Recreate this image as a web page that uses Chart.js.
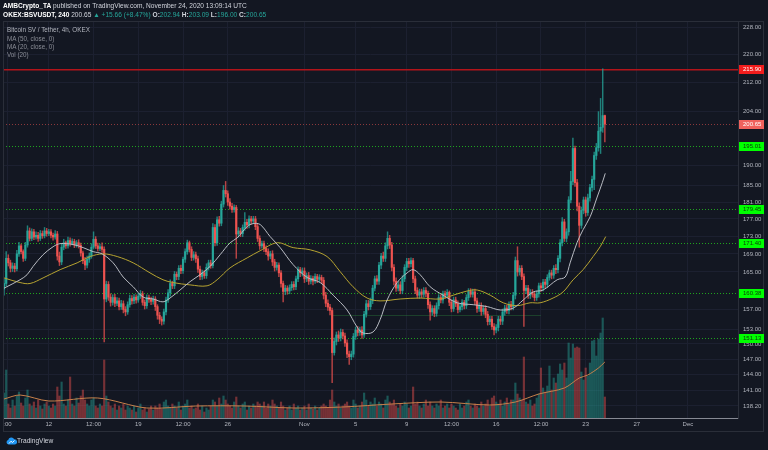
<!DOCTYPE html>
<html><head><meta charset="utf-8">
<script src="https://cdn.jsdelivr.net/npm/chart.js@4.4.1/dist/chart.umd.min.js"></script>
<style>
html,body{margin:0;padding:0;background:#131722;}
#wrap{position:relative;width:768px;height:450px;overflow:hidden;background:#131722;font-family:"Liberation Sans",Arial,sans-serif;}
canvas{position:absolute;left:0;top:0;}
.t{position:absolute;white-space:nowrap;line-height:8px;}
.up{color:#26a69a;}
</style></head><body>
<div id="wrap">
<canvas id="c" width="768" height="450"></canvas>
<div class="t" style="left:3px;top:2px;font-size:6.6px;color:#d1d4dc"><b style="color:#fff">AMBCrypto_TA</b> published on TradingView.com, November 24, 2020 13:09:14 UTC</div>
<div class="t" style="left:3px;top:11px;font-size:6.6px;color:#d1d4dc"><b style="color:#fff">OKEX:BSVUSDT, 240</b> 200.65 <span class="up">▲</span> <span class="up">+15.66 (+8.47%)</span> <b>O:</b><span class="up">202.94</span> <b>H:</b><span class="up">203.09</span> <b>L:</b><span class="up">196.00</span> <b>C:</b><span class="up">200.65</span></div>
<div class="t" style="left:7px;top:26px;font-size:6.3px;color:#b2b5be">Bitcoin SV / Tether, 4h, OKEX</div>
<div class="t" style="left:7px;top:35px;font-size:6.3px;color:#8a8d96">MA (50, close, 0)</div>
<div class="t" style="left:7px;top:43px;font-size:6.3px;color:#8a8d96">MA (20, close, 0)</div>
<div class="t" style="left:7px;top:51px;font-size:6.3px;color:#8a8d96">Vol (20)</div>
<svg style="position:absolute;left:6px;top:436px" width="11" height="9" viewBox="0 0 11 9"><path d="M2.5 8.5 A2.3 2.3 0 0 1 2.2 4 A3.2 3.2 0 0 1 8.2 3.2 A2.6 2.6 0 0 1 8.6 8.5 Z" fill="#2196f3"/><path d="M3 7.5 L5 5.2 L6.5 6.5 L8.5 4.5" stroke="#fff" stroke-width="0.9" fill="none"/></svg>
<div class="t" style="left:17px;top:437px;font-size:6.6px;color:#d1d4dc">TradingView</div>
</div>
<script>
// ---- data (4h candles, index 0 = first visible candle) ----
const opens = [
161.3,162.5,168.0,167.0,165.8,166.3,165.7,169.0,170.8,169.5,
168.0,171.0,174.2,172.5,174.0,172.8,173.2,172.5,173.6,173.1,
174.2,173.6,174.0,173.2,172.8,173.5,168.5,167.2,170.5,171.5,
170.8,172.0,171.3,171.8,171.0,171.5,170.9,169.2,167.5,166.5,
167.8,168.5,170.5,172.3,170.8,170.2,170.6,170.0,159.2,162.3,
159.6,158.5,159.5,158.3,158.8,157.6,158.2,157.0,156.5,158.0,
159.3,158.8,159.6,159.0,159.8,160.3,158.5,157.8,159.5,159.1,
158.7,159.2,157.6,155.8,155.0,154.6,156.5,159.0,160.5,162.5,
162.0,164.5,164.0,165.8,165.3,167.8,169.5,171.5,170.0,168.2,
168.8,167.9,165.6,164.0,164.8,164.2,166.0,167.0,166.4,175.0,
171.5,176.8,176.0,180.5,183.8,183.0,181.0,180.0,179.2,179.7,
173.5,174.2,173.6,175.0,176.2,175.6,177.0,176.5,177.0,175.2,
172.5,170.8,171.3,170.2,169.5,168.5,169.0,167.2,166.0,166.5,
164.8,162.5,160.8,161.5,160.9,161.6,162.3,161.8,163.5,165.5,
164.8,165.2,163.5,164.2,163.0,163.6,163.0,164.0,163.4,163.8,
163.2,160.0,158.3,157.5,156.8,148.3,150.5,151.8,151.2,152.3,
151.6,150.2,148.0,147.5,148.0,151.5,152.8,152.3,152.8,151.8,
156.0,158.2,157.6,158.8,161.5,163.5,163.0,166.5,168.5,168.0,
170.8,172.5,171.0,166.0,163.0,161.5,162.2,161.0,163.5,166.0,
167.3,166.8,167.5,163.5,161.0,160.0,160.7,160.2,161.0,160.4,
158.0,156.5,157.2,156.2,157.8,159.5,159.0,160.3,160.0,160.6,
158.5,157.2,159.0,158.2,157.0,157.6,158.5,157.8,159.5,160.8,
160.2,160.7,158.8,157.2,157.8,156.6,157.2,156.0,154.5,155.0,
153.5,152.8,153.3,155.0,154.6,156.5,157.3,156.8,158.0,157.6,
160.0,167.5,165.0,165.8,164.0,161.0,161.5,160.0,160.6,160.2,
159.5,160.3,162.0,161.6,162.8,162.3,163.8,164.8,164.3,165.8,
165.5,168.0,171.5,176.3,172.5,174.0,181.5,186.0,194.3,185.7,
180.0,175.5,179.0,181.5,178.5,182.0,184.5,186.5,192.5,194.5,
198.8,199.8,202.94];
const highs = [
163.5,169.5,168.8,167.6,167.0,166.9,169.8,171.6,171.2,169.9,
171.6,175.4,174.9,174.7,174.6,174.0,173.9,174.3,174.2,175.0,
174.8,174.6,174.5,173.7,174.3,174.1,169.4,171.2,172.3,171.9,
172.8,172.6,172.4,172.3,172.0,172.2,171.4,169.6,168.2,168.5,
169.2,171.3,174.0,172.9,171.4,171.2,171.5,170.6,163.0,162.9,
160.3,160.1,160.2,159.5,159.4,158.9,158.8,157.6,158.6,160.0,
159.9,160.2,160.1,160.4,161.0,160.8,159.0,160.1,160.0,159.6,
159.8,159.7,158.0,156.4,155.5,157.1,159.6,161.2,163.3,163.0,
165.1,165.0,166.4,166.5,168.3,170.1,172.1,171.9,170.6,169.5,
169.4,168.5,166.3,165.4,165.3,166.8,167.6,167.6,175.9,175.7,
177.5,177.6,181.2,185.0,186.0,183.7,181.8,180.7,180.3,180.2,
175.0,174.8,175.6,178.5,176.9,177.7,177.6,177.6,177.6,175.8,
173.1,171.9,171.9,170.8,170.1,169.6,169.7,167.8,167.1,167.0,
165.3,163.0,162.1,162.0,162.2,162.9,162.9,164.1,166.1,166.0,
165.9,165.9,164.8,164.9,164.2,164.1,164.6,164.5,164.4,164.3,
163.8,160.6,159.0,158.1,157.3,151.2,152.4,152.6,153.0,152.9,
152.2,150.8,148.6,148.6,152.1,153.4,153.5,153.4,153.5,156.6,
158.9,158.9,159.4,162.1,164.1,164.2,167.1,169.1,169.4,171.5,
174.0,173.2,171.6,166.6,163.7,162.9,162.9,164.2,166.6,168.0,
168.0,168.1,168.0,164.1,161.6,161.3,161.3,161.6,161.6,160.9,
158.6,157.8,157.8,158.4,160.1,160.1,160.9,160.9,161.2,160.9,
159.0,159.6,159.6,158.8,158.2,159.1,158.9,160.1,161.4,161.4,
161.3,161.3,159.4,158.4,158.4,157.8,157.8,156.6,155.6,155.6,
154.1,153.9,155.6,155.6,157.1,157.9,157.9,158.6,158.7,160.6,
168.3,170.6,166.4,166.4,164.6,162.1,162.1,161.2,161.2,160.8,
160.9,162.6,162.6,163.4,163.4,164.4,165.4,165.4,166.4,166.6,
168.6,172.2,177.3,176.9,174.7,182.3,188.5,197.0,194.9,186.5,
180.8,179.8,182.2,182.2,182.9,185.3,187.3,193.4,195.6,204.0,
207.6,215.9,203.09];
const lows = [
160.0,162.0,166.3,165.0,165.1,165.0,165.2,168.4,169.0,167.3,
167.5,170.5,171.9,172.0,172.2,172.3,171.8,172.0,172.5,172.6,
173.0,173.1,172.6,172.1,172.3,167.6,166.4,166.6,169.9,170.2,
170.3,170.7,171.0,170.4,170.5,170.3,168.5,166.8,165.5,165.9,
167.1,168.0,170.1,170.2,169.6,169.7,169.3,150.4,158.6,158.9,
157.7,157.9,157.6,157.8,156.9,157.0,156.3,155.7,156.0,157.5,
158.1,158.2,158.3,158.5,159.3,157.9,157.1,157.2,158.5,158.0,
158.1,156.8,155.0,154.1,153.8,154.0,155.9,158.5,159.8,161.4,
161.4,163.3,163.3,164.6,164.7,167.1,168.9,169.4,167.5,167.6,
167.1,164.9,163.3,163.4,163.6,163.6,165.4,165.8,165.9,170.8,
170.9,175.3,175.4,179.8,182.2,180.2,179.3,178.5,178.6,168.0,
172.8,172.9,172.9,174.3,174.8,174.9,175.7,175.9,174.5,171.8,
170.0,170.3,169.5,168.8,167.6,167.9,166.4,165.2,165.4,164.0,
161.7,158.6,160.1,160.2,160.3,161.0,161.1,161.2,162.9,164.0,
164.1,162.7,162.9,162.3,162.4,162.2,162.5,162.7,162.8,162.5,
159.2,157.6,156.8,155.9,142.5,147.8,149.8,150.5,150.6,151.0,
149.5,147.3,146.0,146.9,147.4,150.9,151.6,151.7,151.1,151.3,
155.4,156.9,157.0,158.2,160.9,162.3,162.3,165.7,167.3,167.3,
170.1,170.2,165.2,162.2,160.8,160.9,160.3,160.3,162.9,165.3,
166.0,166.1,162.7,160.3,159.4,159.3,159.5,159.6,159.7,157.2,
154.8,155.8,155.5,155.6,157.1,158.4,158.3,159.3,159.4,157.8,
156.5,156.6,157.6,156.3,156.5,156.9,157.1,157.2,158.9,159.6,
159.6,158.0,156.4,156.6,155.8,156.0,155.3,153.8,153.9,152.9,
151.8,152.2,152.6,153.9,153.9,155.8,156.2,156.1,156.9,156.9,
159.2,164.1,164.3,163.3,153.5,160.3,159.3,159.3,159.6,158.8,
158.9,159.6,160.8,160.9,161.5,161.6,163.2,163.5,163.6,164.6,
164.8,167.2,170.8,171.8,171.7,173.2,180.8,185.2,184.8,178.9,
170.5,174.8,178.2,177.6,177.8,181.2,183.6,184.0,191.5,193.6,
193.0,198.5,196.0];
const closes = [
162.5,168.0,167.0,165.8,166.3,165.7,169.0,170.8,169.5,168.0,
171.0,174.2,172.5,174.0,172.8,173.2,172.5,173.6,173.1,174.2,
173.6,174.0,173.2,172.8,173.5,168.5,167.2,170.5,171.5,170.8,
172.0,171.3,171.8,171.0,171.5,170.9,169.2,167.5,166.5,167.8,
168.5,170.5,172.3,170.8,170.2,170.6,170.0,159.2,162.3,159.6,
158.5,159.5,158.3,158.8,157.6,158.2,157.0,156.5,158.0,159.3,
158.8,159.6,159.0,159.8,160.3,158.5,157.8,159.5,159.1,158.7,
159.2,157.6,155.8,155.0,154.6,156.5,159.0,160.5,162.5,162.0,
164.5,164.0,165.8,165.3,167.8,169.5,171.5,170.0,168.2,168.8,
167.9,165.6,164.0,164.8,164.2,166.0,167.0,166.4,175.0,171.5,
176.8,176.0,180.5,183.8,183.0,181.0,180.0,179.2,179.7,173.5,
174.2,173.6,175.0,176.2,175.6,177.0,176.5,177.0,175.2,172.5,
170.8,171.3,170.2,169.5,168.5,169.0,167.2,166.0,166.5,164.8,
162.5,160.8,161.5,160.9,161.6,162.3,161.8,163.5,165.5,164.8,
165.2,163.5,164.2,163.0,163.6,163.0,164.0,163.4,163.8,163.2,
160.0,158.3,157.5,156.8,148.3,150.5,151.8,151.2,152.3,151.6,
150.2,148.0,147.5,148.0,151.5,152.8,152.3,152.8,151.8,156.0,
158.2,157.6,158.8,161.5,163.5,163.0,166.5,168.5,168.0,170.8,
172.5,171.0,166.0,163.0,161.5,162.2,161.0,163.5,166.0,167.3,
166.8,167.5,163.5,161.0,160.0,160.7,160.2,161.0,160.4,158.0,
156.5,157.2,156.2,157.8,159.5,159.0,160.3,160.0,160.6,158.5,
157.2,159.0,158.2,157.0,157.6,158.5,157.8,159.5,160.8,160.2,
160.7,158.8,157.2,157.8,156.6,157.2,156.0,154.5,155.0,153.5,
152.8,153.3,155.0,154.6,156.5,157.3,156.8,158.0,157.6,160.0,
167.5,165.0,165.8,164.0,161.0,161.5,160.0,160.6,160.2,159.5,
160.3,162.0,161.6,162.8,162.3,163.8,164.8,164.3,165.8,165.5,
168.0,171.5,176.3,172.5,174.0,181.5,186.0,194.3,185.7,180.0,
175.5,179.0,181.5,178.5,182.0,184.5,186.5,192.5,194.5,198.8,
199.8,202.94,200.65];
const volumes = [
25,48,14,10,18,12,22,26,15,12, 20,28,14,12,16,10,18,12,9,14,
16,12,10,14,12,31,22,36,14,12, 18,41,14,12,20,15,22,28,18,14,
12,18,20,12,10,14,12,58,22,16, 12,10,14,8,12,10,14,8,12,10,
8,12,6,10,14,8,10,6,9,12, 8,12,10,14,9,16,18,12,10,14,
12,10,16,8,12,14,18,10,12,9, 10,14,8,12,6,10,8,12,18,16,
12,20,14,22,18,14,12,10,16,21, 12,10,14,16,8,12,10,14,12,16,
14,12,16,10,14,12,18,14,12,10, 16,12,8,10,12,8,14,10,12,8,
10,12,8,14,10,9,12,8,10,12, 14,12,10,18,28,16,12,14,10,12,
14,16,12,10,18,14,10,12,16,25, 18,12,16,14,20,12,16,14,10,18,
22,16,14,18,12,10,14,12,16,14, 10,12,31,14,16,12,10,14,18,12,
16,12,10,14,12,18,10,12,14,10, 14,12,10,8,14,10,12,16,18,12,
10,14,12,10,16,12,14,18,12,20, 22,16,14,18,12,16,20,14,18,18,
35,24,20,18,61,16,14,18,12,14, 20,24,50,30,26,32,52,28,40,35,
44,54,48,55,40,75,60,74,70,71, 70,46,38,50,42,55,77,78,62,79,
85,100,21];
// moving averages: candle index -> value
const ma20Idx = [0,7.5,10.8,13.6,18.3,23,26.3,32.4,37.1,41.8,46,51.2,55.9,60.6,65.3,70,74.6,77.9,82.6,87.3,92,96.7,101.4,106.1,109.4,114.1,116.9,120.2,124.9,129.6,135.7,142.3,148.4,154.5,161,165.7,168.5,173.2,176.5,179.8,184.5,189.2,192,195.3,200,206.1,212.7,220.2,226.8,232.9,239,243.7,248.4,253,259.6,263.4,265.7,269,271.8,275.1,278.4,280.8,282.2];
const ma20 = [161.5,163.3,164.4,166.2,168.8,170.6,171.3,171.1,170.4,169.5,169.0,167.0,163.9,161.8,159.6,159.2,158.6,159.4,161.1,162.9,164.4,166.2,168.8,171.5,172.6,175.2,175.9,175.7,172.9,170.4,166.6,163.8,162.7,160.0,156.9,153.4,152.2,152.4,154.9,159.0,162.7,164.8,165.5,164.4,161.8,160.0,158.4,158.0,157.6,156.9,157.3,159.0,160.7,161.1,163.3,163.9,167.0,171.6,174.5,177.5,182.2,185.7,188.0];
const ma50Idx = [0,7.5,12.2,18.3,26.3,34.3,40.4,46.5,53.1,60.6,68.5,74.6,79.3,87.3,95.3,100,106.1,114.1,120.2,128.2,135.7,143.7,151.6,157.7,163.8,170.4,176.5,185.9,195.3,204.7,210.8,217.4,222.1,228.2,234.3,240.8,246.9,251.6,257.7,262.4,267.1,271.8,276.5,279.8,282.4];
const ma50 = [163.7,162.7,162.5,163.7,165.5,167.0,168.4,169.0,168.4,167.0,164.8,163.3,162.7,162.2,162.0,163.3,165.9,168.1,169.7,171.5,170.4,169.9,168.4,165.1,161.8,159.4,158.8,159.2,159.4,159.2,160.0,160.9,161.1,160.0,158.4,157.8,158.4,158.4,159.4,160.7,163.3,165.5,168.4,170.6,172.9];
const volMaIdx = [0,7.5,21,44,67,90,113,136,159,182,205,228,240,251,263,270,274,279,282];
const volMa = [19,23,17,20,10,12,12,10,11,14,16,13,16,24,30,40,43,50,56];
// axis ticks
const yTicks = [228,220,212,204,190,185,181,177,173,169,165,157,153,150,147,144,141,138.2];
const xTickIdx = [1.6,21,42,63,84,105,141,165,189,210,231,252,273,297,321];
const xTickLabels = [':00','12','12:00','19','12:00','26','Nov','5','9','12:00','16','12:00','23','27','Dec'];
// horizontal levels
const redLevel = 215.90;
const lastPrice = 200.65;
const greenLevels = [195.01,179.45,171.40,160.38,151.13];
const zoneLine = {price:155.9, from:154, to:252};

const UP='#26a69a', DN='#ef5350';
const idx = closes.map((_,i)=>i);
const isUp = idx.map(i=>closes[i]>=opens[i]);
const FONT = '"Liberation Sans", Arial, sans-serif';

const levelsPlugin = {
  id:'levels',
  beforeDatasetsDraw(chart){
    const {ctx, chartArea:a, scales:{x,y}} = chart;
    ctx.save();
    ctx.beginPath(); ctx.rect(a.left,a.top,a.right-a.left,a.bottom-a.top); ctx.clip();
    const hline=(v,color,dash,w,x0,x1)=>{
      const py=Math.round(y.getPixelForValue(v))+0.5;
      ctx.strokeStyle=color; ctx.lineWidth=w; ctx.setLineDash(dash);
      ctx.beginPath(); ctx.moveTo(x0,py); ctx.lineTo(x1,py); ctx.stroke();
    };
    hline(zoneLine.price,'rgba(46,140,60,0.35)',[],1,x.getPixelForValue(zoneLine.from),x.getPixelForValue(zoneLine.to));
    hline(lastPrice,'rgba(239,83,80,0.55)',[1,2],1,a.left,a.right);
    greenLevels.forEach(v=>hline(v,'#1fa31f',[1,2],1,a.left,a.right));
    // solid resistance line drawn as a filled band
    const ry=Math.round(y.getPixelForValue(redLevel));
    ctx.fillStyle='#b3141a';
    ctx.fillRect(a.left,ry,a.right-a.left,1.5);
    ctx.restore();
  },
  afterDraw(chart){
    const {ctx, chartArea:a, scales:{y}} = chart;
    ctx.save();
    // panel border
    ctx.strokeStyle='#2a2e39'; ctx.lineWidth=1; ctx.setLineDash([]);
    ctx.strokeRect(3.5,21.5,760,410);
    const box=(v,bg,fg)=>{
      const py=y.getPixelForValue(v);
      ctx.fillStyle=bg; ctx.fillRect(a.right+1,Math.round(py)-4,25,9);
      ctx.fillStyle=fg; ctx.font='6px '+FONT; ctx.textBaseline='middle'; ctx.textAlign='left';
      ctx.fillText(v.toFixed(2),a.right+5,Math.round(py)+0.5);
    };
    box(redLevel,'#f21c1c','#ffffff');
    box(lastPrice,'#f0625d','#ffffff');
    greenLevels.forEach(v=>box(v,'#00ff00','#0b3b0b'));
    ctx.restore();
  }
};

new Chart(document.getElementById('c'),{
  type:'bar',
  data:{datasets:[
    {label:'Vol', yAxisID:'yv', order:6, grouped:false, barThickness:1.5,
     data:idx.map(i=>({x:i,y:volumes[i]})),
     backgroundColor:idx.map(i=>isUp[i]?'rgba(38,166,154,0.45)':'rgba(239,83,80,0.45)')},
    {type:'line', label:'Vol MA', yAxisID:'yv', order:5,
     data:volMaIdx.map((v,k)=>({x:v,y:volMa[k]})),
     borderColor:'#c8804a', borderWidth:1, pointRadius:0, tension:0.3},
    {label:'wick', yAxisID:'y', order:4, grouped:false, barThickness:0.8,
     data:idx.map(i=>({x:i,y:[lows[i],highs[i]]})),
     backgroundColor:idx.map(i=>isUp[i]?'rgba(38,166,154,0.75)':'rgba(239,83,80,0.75)')},
    {label:'body', yAxisID:'y', order:3, grouped:false, barThickness:1.5, minBarLength:1,
     data:idx.map(i=>({x:i,y:[opens[i],closes[i]]})),
     backgroundColor:idx.map(i=>isUp[i]?UP:DN)},
    {type:'line', label:'MA50', yAxisID:'y', order:2,
     data:ma50Idx.map((v,k)=>({x:v,y:ma50[k]})),
     borderColor:'#b7a431', borderWidth:1, pointRadius:0, tension:0.35},
    {type:'line', label:'MA20', yAxisID:'y', order:1,
     data:ma20Idx.map((v,k)=>({x:v,y:ma20[k]})),
     borderColor:'#b9bcc3', borderWidth:1, pointRadius:0, tension:0.35}
  ]},
  options:{
    responsive:false, animation:false, devicePixelRatio:1, events:[],
    layout:{padding:{left:3,top:21,right:4,bottom:19}},
    plugins:{legend:{display:false}, tooltip:{enabled:false}},
    scales:{
      x:{type:'linear', min:-0.5, max:344.5, offset:false,
        afterBuildTicks:s=>{s.ticks=xTickIdx.map(v=>({value:v}));},
        afterFit:s=>{s.height=13;},
        ticks:{autoSkip:false, maxRotation:0, padding:3, color:'#b2b5be',
          font:{size:6, family:FONT}, callback:(v,i)=>xTickLabels[i]},
        grid:{color:'#1c2030', drawTicks:false, offset:false},
        border:{color:'#868993'}},
      y:{type:'logarithmic', position:'right', min:136.0, max:230.0,
        afterBuildTicks:s=>{s.ticks=yTicks.map(v=>({value:v}));},
        afterFit:s=>{s.width=26;},
        ticks:{autoSkip:false, padding:5, color:'#b2b5be',
          font:{size:6, family:FONT}, callback:v=>Number(v).toFixed(2)},
        grid:{color:'#1c2030', drawTicks:false},
        border:{color:'#2a2e39'}},
      yv:{type:'linear', display:false, min:0, max:397}
    }
  },
  plugins:[levelsPlugin]
});
</script>
</body></html>
